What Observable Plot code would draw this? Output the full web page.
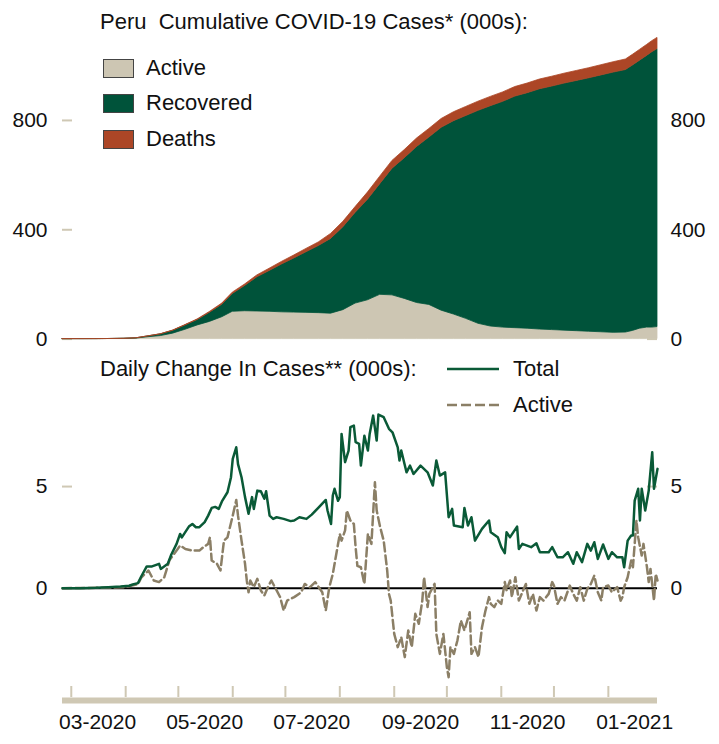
<!DOCTYPE html>
<html>
<head>
<meta charset="utf-8">
<script src="https://cdn.jsdelivr.net/npm/d3@7"></script>
<script src="https://cdn.jsdelivr.net/npm/@observablehq/plot@0.6"></script>
<style>
  html, body { margin: 0; padding: 0; background: #fff; }
  #wrap { position: relative; width: 719px; height: 744px; overflow: hidden; font-family: "Liberation Sans", Arial, sans-serif; color: #111; }
  .t { position: absolute; font-size: 22px; line-height: 1; white-space: pre; }
  .sw { position: absolute; width: 29px; height: 17px; border: 1px solid #444; }
  #top, #bottom { position: absolute; left: 0; }
  #top { top: 0; }
  #bottom { top: 350px; }
</style>
</head>
<body>
<div id="wrap">
  <div id="top"></div>
  <div id="bottom"></div>
  <div class="t" style="left:100px;top:11px;">Peru  Cumulative COVID-19 Cases* (000s):</div>
  <div class="sw" style="left:103px;top:59px;background:#CDC6B3"></div>
  <div class="t" style="left:146px;top:57px;">Active</div>
  <div class="sw" style="left:103px;top:94px;background:#00533A"></div>
  <div class="t" style="left:146px;top:92px;">Recovered</div>
  <div class="sw" style="left:103px;top:130px;background:#AC4626"></div>
  <div class="t" style="left:146px;top:128px;">Deaths</div>
  <div class="t" style="left:100px;top:358px;">Daily Change In Cases** (000s):</div>
  <svg style="position:absolute;left:447px;top:364px" width="54" height="10"><line x1="0" x2="52" y1="5" y2="5" stroke="#0A5A37" stroke-width="2.5"/></svg>
  <div class="t" style="left:513px;top:358px;">Total</div>
  <svg style="position:absolute;left:447px;top:400px" width="54" height="10"><line x1="0" x2="52" y1="5" y2="5" stroke="#8B7F66" stroke-width="2.5" stroke-dasharray="10,4"/></svg>
  <div class="t" style="left:513px;top:394px;">Active</div>
</div>
<script>
// ---------- DATA ----------
// Cumulative cases (thousands)
const cumDates = ["2020-02-25","2020-03-06","2020-03-15","2020-03-22","2020-03-31","2020-04-07","2020-04-14","2020-04-21","2020-04-28","2020-05-05","2020-05-12","2020-05-19","2020-05-26","2020-06-01","2020-06-08","2020-06-15","2020-06-22","2020-06-29","2020-07-06","2020-07-13","2020-07-20","2020-07-27","2020-08-03","2020-08-10","2020-08-17","2020-08-24","2020-08-31","2020-09-07","2020-09-14","2020-09-21","2020-09-28","2020-10-05","2020-10-12","2020-10-19","2020-10-26","2020-11-02","2020-11-09","2020-11-16","2020-11-23","2020-11-30","2020-12-07","2020-12-14","2020-12-21","2020-12-28","2021-01-04","2021-01-11","2021-01-15","2021-01-19","2021-01-23","2021-01-26","2021-01-29"];
const activeCum = [0,0.001,0.07,0.35,1.0,1.9,7.0,11,20,34,50,63,80,100,102,101,100,98,97,96,95,93,106,130,142,162,160,147,132,125,104,90,74,56,46,42,40,38,35,33,31,29,27,25,23,24,30,38,42,42,44];
const recoveredCum = [0,0,0,0.005,0.04,0.94,3.07,6.32,10.35,15.76,20.01,33.59,46.01,65.37,92.13,125.14,149.18,174.9,197.93,221.87,245.41,273.57,303.09,331.82,367.62,404.85,463.39,514.9,571.13,612.33,669.04,707.16,742.17,779.02,806.05,825.92,847.31,861.68,879.06,891.08,903.83,915.51,927.14,939.7,952.08,960.45,971.1,980.6,994.1,1007.7,1017.3];
const deathsCum = [0,0,0,0.005,0.03,0.11,0.23,0.48,0.85,1.44,2.09,2.91,3.79,4.63,5.57,6.86,8.22,9.5,10.77,12.23,13.19,18.23,19.81,21.28,26.28,27.45,28.61,29.7,30.77,31.57,32.26,32.74,33.23,33.68,34.15,34.58,34.99,35.32,35.64,35.92,36.17,36.49,36.86,37.3,37.92,38.55,38.9,39.4,39.9,40.3,40.7];
const seriesNames = ["Active","Recovered","Deaths"];
const seriesColors = ["#CDC6B3","#00533A","#AC4626"];

// Daily change, Total (thousands)
const totalDates = ["2020-02-25","2020-03-06","2020-03-15","2020-03-22","2020-03-29","2020-04-03","2020-04-05","2020-04-08","2020-04-10","2020-04-13","2020-04-16","2020-04-20","2020-04-21","2020-04-25","2020-04-27","2020-04-30","2020-05-02","2020-05-03","2020-05-07","2020-05-09","2020-05-11","2020-05-13","2020-05-16","2020-05-18","2020-05-20","2020-05-22","2020-05-24","2020-05-26","2020-05-29","2020-05-31","2020-06-01","2020-06-03","2020-06-04","2020-06-06","2020-06-08","2020-06-10","2020-06-12","2020-06-13","2020-06-15","2020-06-17","2020-06-19","2020-06-20","2020-06-22","2020-06-24","2020-06-26","2020-06-30","2020-07-04","2020-07-06","2020-07-09","2020-07-13","2020-07-16","2020-07-20","2020-07-24","2020-07-25","2020-07-27","2020-07-28","2020-07-29","2020-07-31","2020-08-01","2020-08-02","2020-08-04","2020-08-06","2020-08-07","2020-08-09","2020-08-10","2020-08-12","2020-08-13","2020-08-15","2020-08-17","2020-08-18","2020-08-20","2020-08-22","2020-08-23","2020-08-26","2020-08-29","2020-08-31","2020-09-03","2020-09-04","2020-09-05","2020-09-08","2020-09-10","2020-09-12","2020-09-16","2020-09-20","2020-09-23","2020-09-25","2020-09-27","2020-09-30","2020-10-02","2020-10-04","2020-10-05","2020-10-10","2020-10-11","2020-10-13","2020-10-15","2020-10-17","2020-10-21","2020-10-25","2020-10-26","2020-10-30","2020-11-01","2020-11-03","2020-11-04","2020-11-06","2020-11-10","2020-11-11","2020-11-13","2020-11-18","2020-11-21","2020-11-23","2020-11-28","2020-11-30","2020-12-03","2020-12-06","2020-12-09","2020-12-12","2020-12-14","2020-12-17","2020-12-20","2020-12-22","2020-12-24","2020-12-26","2020-12-29","2021-01-01","2021-01-03","2021-01-06","2021-01-09","2021-01-10","2021-01-12","2021-01-14","2021-01-15","2021-01-16","2021-01-18","2021-01-19","2021-01-20","2021-01-22","2021-01-24","2021-01-26","2021-01-27","2021-01-29"];
const totalValues = [0,0,0.02,0.05,0.08,0.12,0.18,0.25,0.6,1.07,1.07,1.2,0.95,1.2,1.66,2.18,2.67,2.5,3.03,3.16,3.0,3.0,3.25,3.57,3.95,4.0,3.9,4.3,4.72,5.46,6.36,6.93,6.1,5.46,4.48,3.66,4.48,3.9,4.8,4.77,4.4,4.77,3.57,3.41,3.49,3.41,3.3,3.33,3.49,3.41,3.62,3.98,4.34,3.82,3.16,4.56,4.89,4.3,4.48,7.59,6.2,6.77,7.92,8.0,7.18,7.1,6.03,7.5,6.77,7.59,8.49,7.26,8.54,8.41,7.84,7.67,6.93,6.28,6.77,5.7,6.03,5.62,6.03,5.7,5.05,6.28,5.54,5.7,3.49,3.9,3.08,3.0,3.95,3.08,3.49,2.34,2.92,3.33,2.75,2.51,2.02,1.72,2.75,2.51,3.03,1.93,2.18,2.02,2.21,1.77,1.77,2.02,1.52,1.52,1.77,1.2,1.77,1.28,2.18,1.85,2.26,1.44,2.15,1.44,1.77,1.52,1.52,1.03,2.34,2.59,2.59,4.31,4.89,3.33,4.89,3.82,4.8,6.69,4.89,5.87];

// Daily change, Active (thousands)
const activeDates = ["2020-02-25","2020-03-15","2020-03-31","2020-04-08","2020-04-10","2020-04-14","2020-04-17","2020-04-20","2020-04-23","2020-04-26","2020-04-30","2020-05-02","2020-05-05","2020-05-09","2020-05-13","2020-05-15","2020-05-18","2020-05-19","2020-05-20","2020-05-23","2020-05-25","2020-05-27","2020-05-29","2020-06-01","2020-06-03","2020-06-04","2020-06-06","2020-06-08","2020-06-09","2020-06-10","2020-06-11","2020-06-13","2020-06-15","2020-06-17","2020-06-19","2020-06-21","2020-06-23","2020-06-26","2020-06-28","2020-06-30","2020-07-02","2020-07-06","2020-07-10","2020-07-12","2020-07-15","2020-07-18","2020-07-20","2020-07-22","2020-07-24","2020-07-26","2020-07-28","2020-08-01","2020-08-02","2020-08-04","2020-08-05","2020-08-07","2020-08-09","2020-08-10","2020-08-11","2020-08-13","2020-08-15","2020-08-17","2020-08-19","2020-08-21","2020-08-22","2020-08-24","2020-08-26","2020-08-28","2020-08-29","2020-08-30","2020-09-01","2020-09-03","2020-09-05","2020-09-07","2020-09-09","2020-09-11","2020-09-13","2020-09-15","2020-09-17","2020-09-18","2020-09-20","2020-09-21","2020-09-23","2020-09-24","2020-09-25","2020-09-27","2020-09-29","2020-10-01","2020-10-02","2020-10-03","2020-10-05","2020-10-07","2020-10-09","2020-10-11","2020-10-14","2020-10-15","2020-10-17","2020-10-19","2020-10-21","2020-10-23","2020-10-25","2020-10-26","2020-10-28","2020-10-30","2020-11-01","2020-11-03","2020-11-04","2020-11-06","2020-11-07","2020-11-09","2020-11-11","2020-11-13","2020-11-15","2020-11-17","2020-11-19","2020-11-21","2020-11-23","2020-11-25","2020-11-28","2020-11-30","2020-12-01","2020-12-03","2020-12-05","2020-12-07","2020-12-10","2020-12-12","2020-12-14","2020-12-16","2020-12-18","2020-12-20","2020-12-22","2020-12-24","2020-12-26","2020-12-28","2020-12-29","2021-01-01","2021-01-03","2021-01-06","2021-01-08","2021-01-09","2021-01-10","2021-01-12","2021-01-14","2021-01-15","2021-01-17","2021-01-18","2021-01-20","2021-01-21","2021-01-23","2021-01-24","2021-01-25","2021-01-27","2021-01-28","2021-01-29"];
const activeValues = [0,0.02,0.05,0.2,0.54,0.87,0.38,0.3,0.54,1.39,1.85,2.1,1.93,1.85,1.85,2.0,2.18,2.5,1.36,1.2,0.87,2.34,2.5,3.57,4.34,3.57,2.34,1.2,0.38,-0.2,0.38,0.05,0.46,-0.11,-0.36,0.05,0.38,-0.11,-0.44,-1.1,-0.61,-0.44,-0.2,0.21,0.05,0.3,0.05,-0.2,-1.1,0.05,0.7,2.67,2.34,2.84,3.82,3.33,3.16,2.02,1.1,1.03,0.21,2.67,2.18,5.21,3.82,3.0,2.34,0.87,-0.28,-0.61,-2.25,-2.9,-2.41,-3.39,-2.08,-2.9,-1.26,-1.75,-0.61,0.54,-0.93,-0.28,0.05,0.21,-2.25,-3.23,-2.25,-3.89,-4.38,-2.9,-3.23,-2.57,-1.59,-2.08,-1.18,-3.23,-2.9,-3.39,-1.92,-1.1,-0.44,-0.77,-0.93,-0.6,-0.77,0.3,-0.1,0.38,-0.44,0.54,-0.61,-0.2,0.21,-0.77,-0.28,-1.1,-0.44,-0.61,-0.28,0.3,0.13,-0.77,-0.44,-0.61,0.13,-0.28,-0.61,0.05,-0.61,-0.03,0.21,0.62,-0.2,-0.61,0.05,0.13,-0.2,0.05,-0.61,-0.44,0.05,0.54,1.36,1.03,3.33,2.5,1.61,2.18,1.03,0.3,0.95,-0.61,0.7,0.38];

// Axis ticks and labels
const monthTicks = ["2020-03-01","2020-04-01","2020-05-01","2020-06-01","2020-07-01","2020-08-01","2020-09-01","2020-10-01","2020-11-01","2020-12-01","2021-01-01"];
const monthLabelDates = ["2020-03-16","2020-05-16","2020-07-16","2020-09-16","2020-11-16","2021-01-16"];
const cumTicks = [0, 400, 800];
const dailyTicks = [0, 5];

// ---------- CHART ----------
const parse = d3.utcParse("%Y-%m-%d");
const W = 719, ML = 62, MR = 62, plotW = W - ML - MR;
const tan = "#CFC8B4";
const xDomain = [parse(cumDates[0]), parse(cumDates[cumDates.length - 1])];
const font = {fontFamily: '"Liberation Sans", Arial, sans-serif', fontSize: "21px", color: "#111", background: "transparent", overflow: "visible"};

const cumRows = [];
[activeCum, recoveredCum, deathsCum].forEach((arr, i) => {
  cumDates.forEach((d, j) => cumRows.push({date: parse(d), series: seriesNames[i], value: arr[j]}));
});
const totalRows = totalDates.map((d, i) => ({date: parse(d), value: totalValues[i]}));
const activeRows = activeDates.map((d, i) => ({date: parse(d), value: activeValues[i]}));

const topChart = Plot.plot({
  width: W, height: 350,
  marginLeft: ML, marginRight: MR, marginTop: 24, marginBottom: 11.4,
  style: font,
  x: {type: "utc", domain: xDomain, axis: null, label: null},
  y: {domain: [0, 1151], axis: null, label: null},
  color: {domain: seriesNames, range: seriesColors},
  marks: [
    Plot.tickY(cumTicks, {y: d => d, stroke: tan, strokeWidth: 2, insetRight: plotW - 10}),
    Plot.tickY(cumTicks, {y: d => d, stroke: tan, strokeWidth: 2, insetLeft: plotW - 10}),
    Plot.areaY(cumRows, {x: "date", y: "value", fill: "series", stroke: "series", strokeWidth: 0.8, order: seriesNames}),
    Plot.axisY({anchor: "left", ticks: cumTicks, tickSize: 0, tickPadding: 15, label: null, fontSize: 21}),
    Plot.axisY({anchor: "right", ticks: cumTicks, tickSize: 0, tickPadding: 13, label: null, fontSize: 21})
  ]
});
document.getElementById("top").appendChild(topChart);

const yFloor = -5.524;
const bottomChart = Plot.plot({
  width: W, height: 394,
  marginLeft: ML, marginRight: MR, marginTop: 50, marginBottom: 44,
  style: font,
  x: {type: "utc", domain: xDomain, axis: null, label: null},
  y: {domain: [yFloor, 9.233], axis: null, label: null},
  marks: [
    Plot.tickY(dailyTicks, {y: d => d, stroke: tan, strokeWidth: 2, insetRight: plotW - 10}),
    Plot.tickY(dailyTicks, {y: d => d, stroke: tan, strokeWidth: 2, insetLeft: plotW - 10}),
    Plot.ruleY([0], {stroke: "#000", strokeWidth: 2}),
    Plot.lineY(activeRows, {x: "date", y: "value", stroke: "#8B7F66", strokeWidth: 2.5, strokeDasharray: "9,4"}),
    Plot.lineY(totalRows, {x: "date", y: "value", stroke: "#0A5A37", strokeWidth: 2.5}),
    Plot.ruleY([yFloor], {stroke: tan, strokeWidth: 6}),
    Plot.tickX(monthTicks.map(parse), {x: d => d, stroke: tan, strokeWidth: 2, insetTop: 286, insetBottom: 3}),
    Plot.axisX({anchor: "bottom", ticks: monthLabelDates.map(parse), tickFormat: d3.utcFormat("%m-%Y"), tickSize: 0, tickPadding: 14, label: null, fontSize: 21}),
    Plot.axisY({anchor: "left", ticks: dailyTicks, tickSize: 0, tickPadding: 15, label: null, fontSize: 21}),
    Plot.axisY({anchor: "right", ticks: dailyTicks, tickSize: 0, tickPadding: 13, label: null, fontSize: 21})
  ]
});
document.getElementById("bottom").appendChild(bottomChart);
</script>
</body>
</html>
